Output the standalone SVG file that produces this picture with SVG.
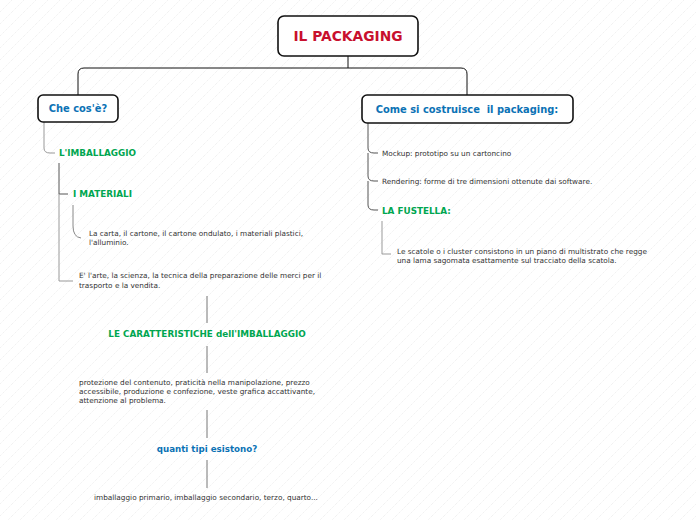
<svg xmlns="http://www.w3.org/2000/svg" width="696" height="520" viewBox="0 0 696 520">
<defs>
<pattern id="hatch" width="12" height="12" patternUnits="userSpaceOnUse">
<path d="M0 12 L12 0 M-3 3 L3 -3 M9 15 L15 9" stroke="#e6e6e6" stroke-width="0.7" stroke-dasharray="1.2 1"/>
</pattern>
<style>
.box{fill:#fff;stroke:#111;stroke-width:1.6}
.t{font-family:"DejaVu Sans",Verdana,sans-serif}
.title{font-size:13.8px;font-weight:bold;fill:#c8102e}
.h1{font-size:9.9px;font-weight:bold;fill:#0b72b5}
.h2{font-size:8.8px;font-weight:bold;fill:#00a650}
.h3{font-size:8.7px;font-weight:bold;fill:#0b72b5}
.s{font-size:7.3px;fill:#333}
.c{fill:none;stroke-width:1}
</style>
</defs>
<rect width="696" height="520" fill="#fff"/>
<rect width="696" height="520" fill="url(#hatch)"/>
<g id="connectors">
<path class="c" stroke="#111" stroke-width="1.5" d="M348 56 V68 M84 68 H461 Q467 68 467 74 V95 M84 68 Q78 68 78 74 V95"/>
<path class="c" stroke="#999" d="M44 122 V148 Q44 153 50 153 H55"/>
<path class="c" stroke="#555" d="M59 163 V194 H68"/>
<path class="c" stroke="#999" d="M59 194 V281 H73"/>
<path class="c" stroke="#888" d="M73 205 V226 Q73 237 81 238"/>
<path class="c" stroke="#777" d="M207 296 V323 M207 346 V373 M207 410 V438 M207 460 V488"/>
<path class="c" stroke="#555" d="M368 123 V148 Q368 153 374 153 H378 M368 153 V176 Q368 181 374 181 H378 M368 181 V205 Q368 210 374 210 H378"/>
<path class="c" stroke="#999" d="M382 221 V254 H391"/>
</g>
<g id="root">
<rect class="box" x="278" y="16" width="140" height="40" rx="6"/>
<text class="t title" x="348" y="41" text-anchor="middle">IL PACKAGING</text>
</g>
<g id="checose">
<rect class="box" x="38" y="95" width="80" height="27" rx="5"/>
<text class="t h1" x="78" y="112" text-anchor="middle">Che cos'è?</text>
</g>
<g id="come">
<rect class="box" x="362" y="95" width="211" height="28" rx="5"/>
<text class="t h1" x="467" y="112.5" text-anchor="middle" font-size="10.7px">Come si costruisce&#160; il packaging:</text>
</g>
<g id="imballaggio"><text class="t h2" x="59" y="156">L'IMBALLAGGIO</text></g>
<g id="materiali"><text class="t h2" x="73" y="197">I MATERIALI</text></g>
<g id="materiali-desc"><text class="t s" x="89" y="236">La carta, il cartone, il cartone ondulato, i materiali plastici,</text><text class="t s" x="89" y="245">l'alluminio.</text></g>
<g id="arte"><text class="t s" x="79" y="278">E' l'arte, la scienza, la tecnica della preparazione delle merci per il</text><text class="t s" x="79" y="288">trasporto e la vendita.</text></g>
<g id="caratteristiche"><text class="t h2" x="207" y="337" text-anchor="middle">LE CARATTERISTICHE dell'IMBALLAGGIO</text></g>
<g id="caratt-desc"><text class="t s" x="79" y="385">protezione del contenuto, praticità nella manipolazione, prezzo</text><text class="t s" x="79" y="394">accessibile, produzione e confezione, veste grafica accattivante,</text><text class="t s" x="79" y="403">attenzione al problema.</text></g>
<g id="tipi"><text class="t h3" x="207" y="452" text-anchor="middle">quanti tipi esistono?</text></g>
<g id="tipi-desc"><text class="t s" x="206" y="500" text-anchor="middle">imballaggio primario, imballaggio secondario, terzo, quarto...</text></g>
<g id="mockup"><text class="t s" x="382" y="156">Mockup: prototipo su un cartoncino</text></g>
<g id="rendering"><text class="t s" x="382" y="184">Rendering: forme di tre dimensioni ottenute dai software.</text></g>
<g id="fustella"><text class="t h2" x="382" y="214">LA FUSTELLA:</text></g>
<g id="fustella-desc"><text class="t s" x="397" y="254">Le scatole o i cluster consistono in un piano di multistrato che regge</text><text class="t s" x="397" y="263">una lama sagomata esattamente sul tracciato della scatola.</text></g>
</svg>
